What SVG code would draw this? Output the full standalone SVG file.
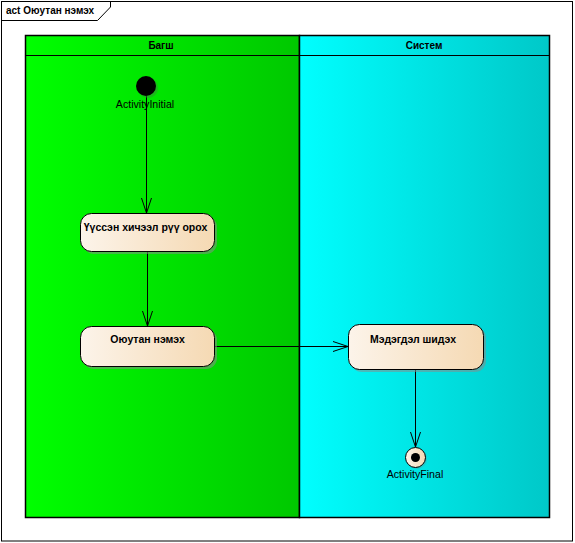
<svg xmlns="http://www.w3.org/2000/svg" width="575" height="543" viewBox="0 0 575 543">
<style>
text{font-family:"Liberation Sans",Arial,sans-serif;fill:#000}
.b{font-weight:bold;font-size:10px}
.ba{font-weight:bold;font-size:10.5px}
.lbl{font-size:10.6px}
.act{stroke:#000;stroke-width:1;fill:url(#ga)}
.sh{fill:#8a8a8a;opacity:0.55}
.edge{stroke:#000;stroke-width:1;fill:none}
</style>
<defs>
<linearGradient id="gg" x1="0" x2="1" y1="0" y2="0"><stop offset="0" stop-color="#00ff00"/><stop offset="1" stop-color="#00c800"/></linearGradient>
<linearGradient id="gc" x1="0" x2="1" y1="0" y2="0"><stop offset="0" stop-color="#00ffff"/><stop offset="1" stop-color="#00c8c8"/></linearGradient>
<linearGradient id="ga" x1="0" x2="1" y1="0" y2="0"><stop offset="0" stop-color="#fcf4ea"/><stop offset="1" stop-color="#f5d9b3"/></linearGradient>
<marker id="arr" markerWidth="16" markerHeight="12" refX="15" refY="6" orient="auto" markerUnits="userSpaceOnUse">
<path d="M0,1 L15,6 L0,11" fill="none" stroke="#000" stroke-width="1"/>
</marker>
</defs>
<rect x="0" y="0" width="575" height="543" fill="#fff"/>
<g id="frame">
<rect x="1.5" y="1.5" width="571" height="539.5" fill="none" stroke="#000" stroke-width="1"/>
<path d="M1.5,20.5 H97.5 L110.5,7 V1.5" fill="none" stroke="#000" stroke-width="1"/>
<text class="b" x="6" y="14">act Оюутан нэмэх</text>
</g>
<g id="lane-bagsh">
<rect x="25.5" y="35.5" width="274" height="482" fill="url(#gg)" stroke="#000" stroke-width="1.5"/>
<line x1="25.5" y1="55.5" x2="299.5" y2="55.5" stroke="#000" stroke-width="1"/>
<text class="b" x="161" y="49" text-anchor="middle">Багш</text>
</g>
<g id="lane-sistem">
<rect x="299.5" y="35.5" width="250" height="482" fill="url(#gc)" stroke="#000" stroke-width="1.5"/>
<line x1="299.5" y1="55.5" x2="550" y2="55.5" stroke="#000" stroke-width="1"/>
<text class="b" x="424" y="49" text-anchor="middle">Систем</text>
</g>
<g id="connectors">
<line class="edge" x1="146.5" y1="96" x2="146.5" y2="213" marker-end="url(#arr)"/>
<line class="edge" x1="147.5" y1="251" x2="147.5" y2="326" marker-end="url(#arr)"/>
<line class="edge" x1="214" y1="346.5" x2="348" y2="346.5" marker-end="url(#arr)"/>
<line class="edge" x1="415.5" y1="369" x2="415.5" y2="447" marker-end="url(#arr)"/>
</g>
<g id="initial">
<circle cx="148" cy="88" r="10" fill="#3a8a3a" opacity="0.5"/>
<circle cx="146" cy="86" r="10" fill="#000"/>
<text class="lbl" x="145" y="108" text-anchor="middle">ActivityInitial</text>
</g>
<g id="action-oroh">
<rect class="sh" x="83" y="216" width="134" height="38" rx="11"/>
<rect class="act" x="80.5" y="213.5" width="134" height="38" rx="11"/>
<text class="ba" x="145.5" y="231" text-anchor="middle">Үүссэн хичээл рүү орох</text>
</g>
<g id="action-nemeh">
<rect class="sh" x="83" y="329" width="134" height="40" rx="11"/>
<rect class="act" x="80.5" y="326.5" width="134" height="40" rx="11"/>
<text class="ba" x="147.5" y="343" text-anchor="middle">Оюутан нэмэх</text>
</g>
<g id="action-medegdel">
<rect class="sh" x="351" y="327" width="135" height="45" rx="11"/>
<rect class="act" x="348.5" y="324.5" width="135" height="45" rx="11"/>
<text class="ba" x="413" y="343" text-anchor="middle">Мэдэгдэл шидэх</text>
</g>
<g id="final">
<circle cx="417" cy="459" r="10" fill="#5a9a9a" opacity="0.4"/>
<circle cx="415.5" cy="457.5" r="10" fill="url(#ga)" stroke="#000" stroke-width="1"/>
<circle cx="415.5" cy="457.5" r="4.5" fill="#000"/>
<text class="lbl" x="415" y="478" text-anchor="middle">ActivityFinal</text>
</g>
</svg>
